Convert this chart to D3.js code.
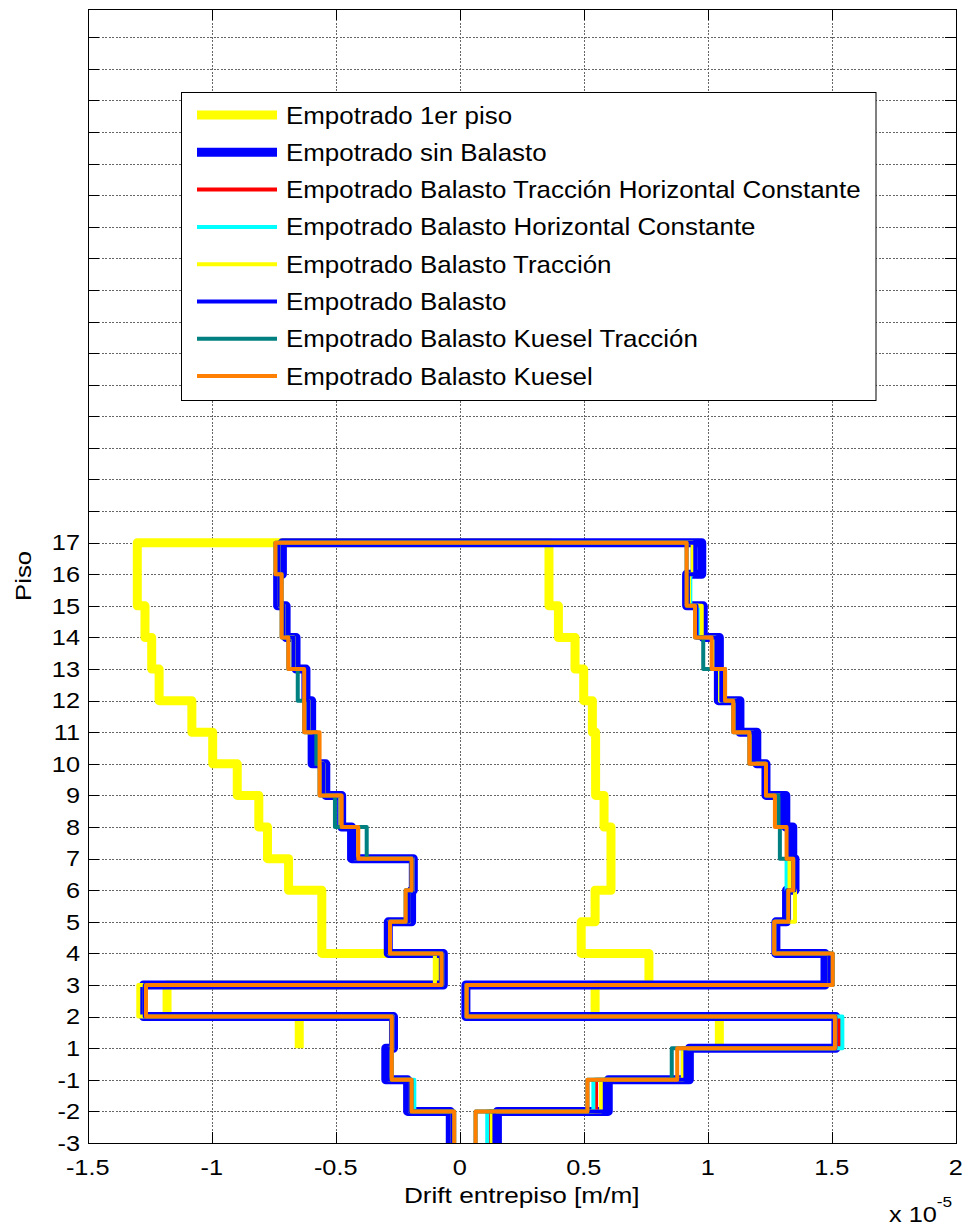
<!DOCTYPE html>
<html>
<head>
<meta charset="utf-8">
<script src="https://cdn.jsdelivr.net/npm/d3@7"></script>
<style>
  html, body { margin: 0; padding: 0; background: #fff; }
  svg { display: block; }
  text { font-family: Arial, "Liberation Sans", sans-serif; fill: #000; }
</style>
</head>
<body>
<svg id="chart" width="969" height="1230"></svg>
<script>
// ---------------- DATA (drift values in units of 1e-5 m/m) ----------------
// Floor levels (bottom to top) used as y tick labels
const levelLabels = ["-3","-2","-1","1","2","3","4","5","6","7","8","9","10","11","12","13","14","15","16","17"];
const xTicks = [-1.5, -1, -0.5, 0, 0.5, 1, 1.5, 2];
const xTickLabels = ["-1.5","-1","-0.5","0","0.5","1","1.5","2"];

// Story k spans level k to level k+1 (19 stories). neg = left envelope, pos = right envelope.
const emp1erNeg   = [null, null, null, -0.647, -1.18, -0.09, -0.556, -0.556, -0.69, -0.775, -0.81, -0.897, -0.996, -1.08, -1.212, -1.242, -1.269, -1.30, -1.30];
const emp1erPos   = [null, null, null, 1.047, 0.546, 0.763, 0.49, 0.546, 0.61, 0.61, 0.582, 0.548, 0.548, 0.535, 0.50, 0.465, 0.398, 0.36, 0.36];

const sinBalNeg   = [-0.038, -0.21, -0.298, -0.267, -1.275, -0.066, -0.288, -0.194, -0.187, -0.436, -0.476, -0.54, -0.595, -0.597, -0.62, -0.66, -0.70, -0.734, -0.715];
const sinBalPos   = [0.152, 0.599, 0.926, 1.517, 0.025, 1.473, 1.275, 1.318, 1.352, 1.343, 1.315, 1.235, 1.198, 1.130, 1.043, 1.047, 0.982, 0.915, 0.976];

const tracHorNeg  = [-0.03, -0.197, -0.285, -0.27, -1.27, -0.07, -0.285, -0.205, -0.19, -0.42, -0.48, -0.55, -0.58, -0.61, -0.62, -0.67, -0.71, -0.725, -0.73];
const tracHorPos  = [0.12, 0.55, 0.90, 1.53, 0.027, 1.49, 1.27, 1.32, 1.33, 1.32, 1.29, 1.235, 1.18, 1.115, 1.05, 1.03, 0.965, 0.925, 0.94];

const horConNeg   = [-0.03, -0.183, -0.28, -0.27, -1.27, -0.07, -0.285, -0.205, -0.19, -0.42, -0.48, -0.55, -0.58, -0.61, -0.62, -0.67, -0.71, -0.725, -0.73];
const horConPos   = [0.111, 0.539, 0.90, 1.543, 0.027, 1.49, 1.27, 1.32, 1.318, 1.32, 1.29, 1.235, 1.18, 1.115, 1.05, 1.03, 0.965, 0.93, 0.94];

const tracNeg     = [-0.03, -0.20, -0.285, -0.27, -1.296, -0.10, -0.285, -0.205, -0.19, -0.42, -0.48, -0.55, -0.58, -0.61, -0.62, -0.67, -0.71, -0.725, -0.73];
const tracPos     = [0.13, 0.57, 0.90, 1.515, 0.027, 1.49, 1.27, 1.352, 1.33, 1.32, 1.29, 1.235, 1.18, 1.115, 1.05, 1.03, 0.976, 0.925, 0.94];

const balNeg      = [-0.03, -0.20, -0.29, -0.27, -1.27, -0.07, -0.285, -0.205, -0.19, -0.425, -0.476, -0.55, -0.585, -0.61, -0.615, -0.67, -0.71, -0.725, -0.73];
const balPos      = [0.14, 0.585, 0.91, 1.515, 0.027, 1.49, 1.27, 1.32, 1.35, 1.33, 1.30, 1.235, 1.185, 1.12, 1.055, 1.035, 0.955, 0.92, 0.95];

const kueTracNeg  = [-0.022, -0.194, -0.274, -0.274, -1.265, -0.073, -0.281, -0.218, -0.194, -0.375, -0.503, -0.565, -0.578, -0.627, -0.653, -0.691, -0.718, -0.718, -0.743];
const kueTracPos  = [0.064, 0.515, 0.855, 1.513, 0.028, 1.504, 1.268, 1.325, 1.345, 1.291, 1.285, 1.235, 1.168, 1.103, 1.070, 0.982, 0.949, 0.915, 0.915];

const kueNeg      = [-0.022, -0.194, -0.274, -0.274, -1.265, -0.073, -0.281, -0.218, -0.194, -0.409, -0.476, -0.565, -0.565, -0.627, -0.627, -0.691, -0.718, -0.718, -0.743];
const kuePos      = [0.064, 0.515, 0.877, 1.513, 0.028, 1.504, 1.268, 1.325, 1.345, 1.318, 1.271, 1.235, 1.168, 1.103, 1.070, 1.016, 0.949, 0.915, 0.915];

const seriesNames = [
  "Empotrado 1er piso",
  "Empotrado sin Balasto",
  "Empotrado Balasto Tracción Horizontal Constante",
  "Empotrado Balasto Horizontal Constante",
  "Empotrado Balasto Tracción",
  "Empotrado Balasto",
  "Empotrado Balasto Kuesel Tracción",
  "Empotrado Balasto Kuesel"
];
const seriesColors = ["#FFFF00", "#0000FF", "#FF0000", "#00FFFF", "#FFFF00", "#0000FF", "#008080", "#FF8000"];
const seriesWidths = [9, 9, 4, 4, 4, 4, 4, 4];
const seriesNeg = [emp1erNeg, sinBalNeg, tracHorNeg, horConNeg, tracNeg, balNeg, kueTracNeg, kueNeg];
const seriesPos = [emp1erPos, sinBalPos, tracHorPos, horConPos, tracPos, balPos, kueTracPos, kuePos];

// ---------------- LAYOUT ----------------
const plot = { left: 87.7, right: 955.7, top: 8.7, bottom: 1143 };
const yTopDomain = 35.9;
const x = d3.scaleLinear().domain([-1.5, 2]).range([plot.left, plot.right]);
const y = d3.scaleLinear().domain([0, yTopDomain]).range([plot.bottom, plot.top]);

const svg = d3.select("#chart");
svg.append("rect").attr("width", 969).attr("height", 1230).attr("fill", "#fff");

svg.append("defs").append("clipPath").attr("id", "clip")
  .append("rect")
  .attr("x", plot.left).attr("y", plot.top)
  .attr("width", plot.right - plot.left).attr("height", plot.bottom - plot.top);

// text helper: horizontally widened Arial to match the reference glyph widths
function addText(parent, tx, ty, str, size, anchor, sx, rot) {
  const g = parent.append("g")
    .attr("transform", `translate(${tx},${ty})` + (rot ? ` rotate(${rot})` : "") + ` scale(${sx},1)`);
  return g.append("text").attr("x", 0).attr("y", 0)
    .attr("text-anchor", anchor).attr("font-size", size).text(str);
}

// Grid
const gridG = svg.append("g").attr("stroke", "#666").attr("stroke-width", 1)
  .attr("stroke-dasharray", "2,1.5").attr("shape-rendering", "crispEdges");
const yGridIdx = d3.range(1, 36);
gridG.selectAll("line.h").data(yGridIdx).join("line")
  .attr("x1", plot.left).attr("x2", plot.right)
  .attr("y1", d => Math.round(y(d)) + 0.5).attr("y2", d => Math.round(y(d)) + 0.5);
gridG.selectAll("line.v").data(xTicks.slice(1, -1)).join("line")
  .attr("y1", plot.top).attr("y2", plot.bottom)
  .attr("x1", d => Math.round(x(d)) + 0.5).attr("x2", d => Math.round(x(d)) + 0.5);

// Series
function buildPoints(neg, pos) {
  const pts = [];
  for (let k = 0; k < neg.length; k++) {
    if (neg[k] == null) continue;
    pts.push([neg[k], k], [neg[k], k + 1]);
  }
  for (let k = pos.length - 1; k >= 0; k--) {
    if (pos[k] == null) continue;
    pts.push([pos[k], k + 1], [pos[k], k]);
  }
  return pts;
}
const line = d3.line().x(d => x(d[0])).y(d => y(d[1]));
const dataG = svg.append("g").attr("clip-path", "url(#clip)");
seriesNames.forEach((name, i) => {
  dataG.append("path")
    .attr("d", line(buildPoints(seriesNeg[i], seriesPos[i])))
    .attr("fill", "none")
    .attr("stroke", seriesColors[i])
    .attr("stroke-width", seriesWidths[i])
    .attr("stroke-linejoin", "round")
    .attr("stroke-linecap", "butt");
});

// Axes box and ticks
const axG = svg.append("g").attr("stroke", "#000").attr("stroke-width", 1).attr("shape-rendering", "crispEdges");
axG.append("rect")
  .attr("x", Math.round(plot.left) + 0.5).attr("y", Math.round(plot.top) + 0.5)
  .attr("width", Math.round(plot.right) - Math.round(plot.left))
  .attr("height", Math.round(plot.bottom) - Math.round(plot.top))
  .attr("fill", "none");
const tl = 11;
const yTickIdx = d3.range(0, 36);
yTickIdx.forEach(d => {
  const yy = Math.round(y(d)) + 0.5;
  axG.append("line").attr("x1", plot.left).attr("x2", plot.left + tl).attr("y1", yy).attr("y2", yy);
  axG.append("line").attr("x1", plot.right - tl).attr("x2", plot.right).attr("y1", yy).attr("y2", yy);
});
xTicks.forEach(d => {
  const xx = Math.round(x(d)) + 0.5;
  axG.append("line").attr("x1", xx).attr("x2", xx).attr("y1", plot.bottom).attr("y2", plot.bottom - tl);
  axG.append("line").attr("x1", xx).attr("x2", xx).attr("y1", plot.top).attr("y2", plot.top + tl);
});

// Tick labels
const fs = 22, sxT = 1.15;
const labG = svg.append("g");
levelLabels.forEach((d, i) => addText(labG, 80, y(i) + 7.8, d, fs, "end", sxT));
xTicks.forEach((d, i) => addText(labG, x(d), 1175, xTickLabels[i], fs, "middle", sxT));

// Axis labels
addText(labG, (plot.left + plot.right) / 2, 1203, "Drift entrepiso [m/m]", fs, "middle", 1.19);
addText(labG, 31, (plot.top + plot.bottom) / 2, "Piso", fs, "middle", 1.17, -90);
const expT = addText(labG, 889, 1222, "", fs, "start", sxT);
expT.append("tspan").text("x 10");
expT.append("tspan").attr("font-size", 15).attr("dy", -15).text("-5");

// Legend
const leg = { x: 181.5, y: 92.5, w: 694.5, h: 308, row0: 115, dy: 37.3 };
svg.append("rect").attr("x", leg.x).attr("y", leg.y).attr("width", leg.w).attr("height", leg.h)
  .attr("fill", "#fff").attr("stroke", "#000").attr("stroke-width", 1);
const legG = svg.append("g");
seriesNames.forEach((name, i) => {
  const ry = leg.row0 + i * leg.dy;
  legG.append("line").attr("x1", 197).attr("x2", 277).attr("y1", ry).attr("y2", ry)
    .attr("stroke", seriesColors[i]).attr("stroke-width", seriesWidths[i]);
  addText(legG, 286, ry + 8.5, name, 24, "start", 1.08);
});
</script>
</body>
</html>
